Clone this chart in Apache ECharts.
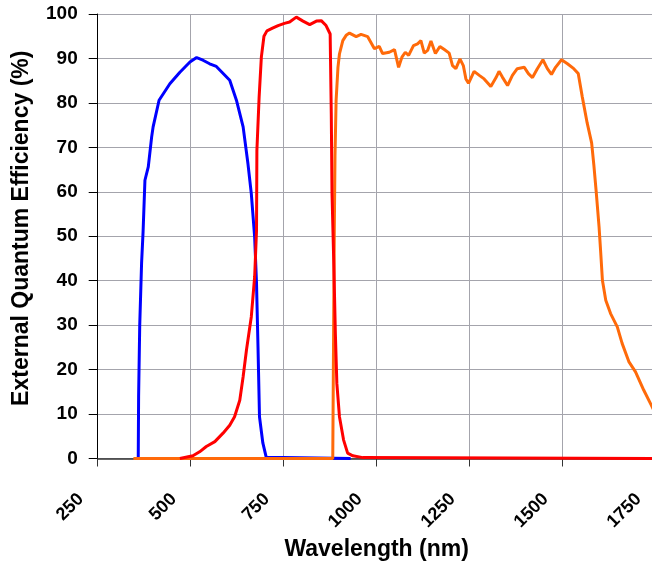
<!DOCTYPE html>
<html>
<head>
<meta charset="utf-8">
<script src="https://cdn.jsdelivr.net/npm/echarts@6/dist/echarts.min.js"></script>
<style>
html,body{margin:0;padding:0;background:#fff;}
#chart{width:652px;height:565px;}
</style>
</head>
<body>
<div id="chart"></div>
<script>
// Tick labels
var xTicks = [250, 500, 750, 1000, 1250, 1500, 1750];
var yTicks = [0, 10, 20, 30, 40, 50, 60, 70, 80, 90, 100];

// Blue detector
var blueWl = [359, 360, 363, 368, 372, 377, 386, 395, 399, 415, 444, 471, 498, 516, 533, 551, 569, 605, 623, 641, 654, 663, 672, 677, 681, 685, 694, 703, 930];
var blueQe = [0, 14, 30, 44, 51, 62.6, 65.6, 72.3, 74.6, 80.6, 84.3, 86.9, 89.2, 90.2, 89.6, 88.8, 88.2, 85.1, 80.6, 74.6, 66.3, 59.6, 49.8, 39.4, 25.1, 9.4, 3.5, 0.3, 0];

// Red detector
var redWl = [471, 506, 524, 542, 565, 587, 605, 618, 632, 641, 650, 663, 672, 677, 678, 684, 690, 697, 705, 720, 735, 752, 766, 784, 802, 820, 838, 851, 864, 875, 878, 880, 885, 889, 893, 900, 911, 922, 936, 963, 1750];
var redQe = [0, 0.6, 1.5, 2.7, 3.8, 5.7, 7.5, 9.4, 13.1, 18.4, 24.4, 31.9, 40.9, 51.3, 69.3, 81.3, 90.3, 95, 96.2, 96.8, 97.4, 97.9, 98.2, 99.3, 98.4, 97.6, 98.4, 98.5, 97.4, 95.5, 77.6, 59.6, 43.1, 28.1, 16.9, 9.4, 4.2, 1.2, 0.6, 0.2, 0];

// Orange detector
var orangeWl = [346, 882, 884, 886, 888, 891, 896, 900, 909, 918, 927, 945, 958, 976, 994, 1007, 1016, 1034, 1048, 1059, 1068, 1077, 1086, 1099, 1110, 1119, 1128, 1137, 1146, 1158, 1170, 1182, 1195, 1204, 1213, 1224, 1233, 1240, 1247, 1262, 1276, 1289, 1307, 1321, 1329, 1338, 1352, 1365, 1378, 1397, 1408, 1419, 1432, 1447, 1459, 1470, 1481, 1497, 1513, 1530, 1542, 1553, 1566, 1578, 1584, 1590, 1598, 1602, 1607, 1616, 1629, 1647, 1660, 1678, 1696, 1718, 1736, 1750];
var orangeQe = [0, 0, 25, 50, 68, 80.6, 88, 91, 94, 95.2, 95.7, 94.9, 95.4, 94.9, 92.2, 92.7, 91.1, 91.4, 92, 88, 90.3, 91.4, 90.7, 92.9, 93.3, 94, 91.2, 91.8, 93.9, 91.1, 92.7, 92, 91.2, 88.4, 87.7, 89.9, 88.4, 85.4, 84.4, 87.1, 86.2, 85.4, 83.7, 85.7, 87.1, 85.8, 83.9, 86.2, 87.7, 88, 86.6, 85.7, 87.7, 89.7, 87.7, 86.4, 88, 89.7, 88.8, 87.7, 86.6, 81.3, 75.5, 71, 66, 60.3, 52.1, 46.9, 40.1, 35.6, 32.6, 29.6, 25.9, 21.8, 19.5, 15.4, 12.4, 10];

function pairs(xs, ys) { return xs.map(function (x, i) { return [x, ys[i]]; }); }

var FONT = '"Liberation Sans", Arial, sans-serif';
var chart = echarts.init(document.getElementById('chart'), null, {renderer: 'canvas'});
chart.setOption({
  animation: false,
  backgroundColor: '#ffffff',
  grid: {left: 97.7, top: 14, bottom: 106.5, right: -3.6, containLabel: false, outerBoundsMode: 'none'},
  xAxis: {
    type: 'value', min: 250, max: 1750, interval: 250,
    name: 'Wavelength (nm)', nameLocation: 'middle', nameGap: 79,
    nameTextStyle: {fontFamily: FONT, fontWeight: 'bold', fontSize: 23, color: '#000'},
    axisLine: {show: true, lineStyle: {color: '#333', width: 1.5}},
    axisTick: {show: true, length: 8, lineStyle: {color: '#333'}},
    axisLabel: {rotate: 45, margin: 21, padding: [0, 24, 0, 0], fontFamily: FONT, fontWeight: 'bold', fontSize: 18, color: '#000',
      formatter: function (v) { return xTicks.indexOf(v) >= 0 ? String(v) : ''; }},
    splitLine: {show: true, lineStyle: {color: '#a4a4ac', width: 1}}
  },
  yAxis: {
    type: 'value', min: 0, max: 100, interval: 10,
    name: 'External Quantum Efficiency (%)', nameLocation: 'middle', nameGap: 65,
    nameTextStyle: {fontFamily: FONT, fontWeight: 'bold', fontSize: 23, color: '#000', padding: [0, 0, 0, 16]},
    axisLine: {show: true, lineStyle: {color: '#000', width: 1}},
    axisTick: {show: true, length: 9, lineStyle: {color: '#000'}},
    axisLabel: {margin: 20, fontFamily: FONT, fontWeight: 'bold', fontSize: 19, color: '#000',
      formatter: function (v) { return yTicks.indexOf(v) >= 0 ? String(v) : ''; }},
    splitLine: {show: true, lineStyle: {color: '#a4a4ac', width: 1}}
  },
  series: [
    {name: 'Blue', type: 'line', data: pairs(blueWl, blueQe), showSymbol: false, symbol: 'none',
      lineStyle: {color: '#0000ff', width: 3}, itemStyle: {color: '#0000ff'}, z: 2},
    {name: 'Orange', type: 'line', data: pairs(orangeWl, orangeQe), showSymbol: false, symbol: 'none',
      lineStyle: {color: '#ff6a0a', width: 3}, itemStyle: {color: '#ff6a0a'}, z: 3},
    {name: 'Red', type: 'line', data: pairs(redWl, redQe), showSymbol: false, symbol: 'none',
      lineStyle: {color: '#ff0000', width: 3}, itemStyle: {color: '#ff0000'}, z: 4}
  ]
});
</script>
</body>
</html>
